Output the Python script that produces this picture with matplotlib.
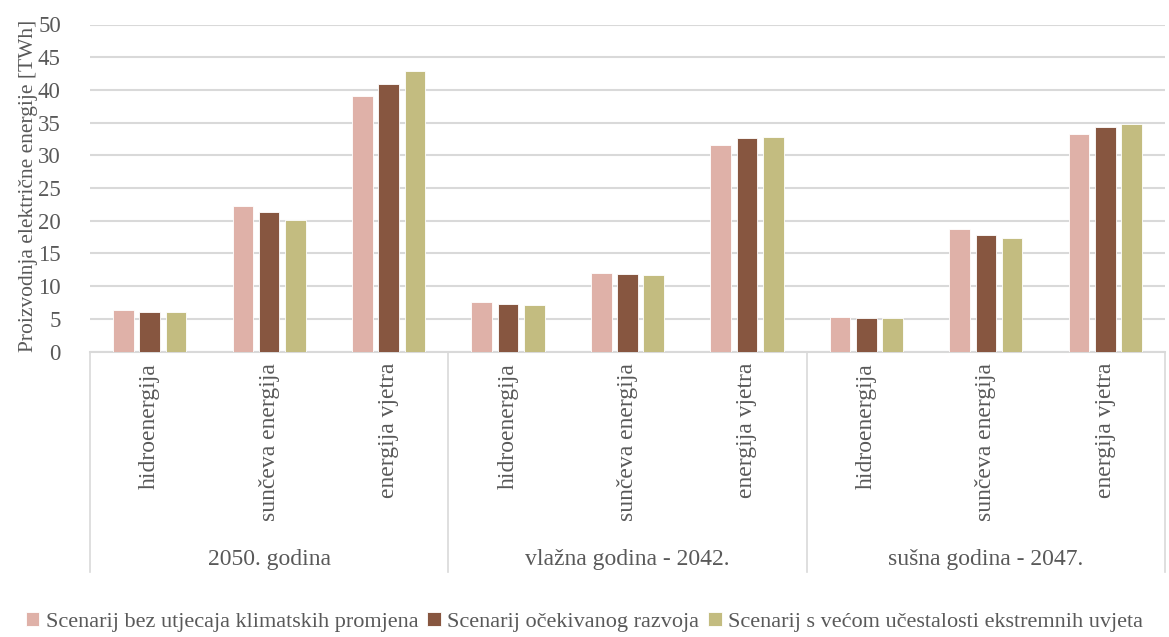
import matplotlib
matplotlib.use("Agg")
import matplotlib.pyplot as plt
import numpy as np

plt.rcParams["font.family"] = "Liberation Serif"
plt.rcParams["text.color"] = "#595959"
plt.rcParams["ytick.color"] = "#595959"
plt.rcParams["axes.labelcolor"] = "#595959"

groups     = ["2050. godina", "vlažna godina - 2042.", "sušna godina - 2047."]
sources    = ["hidroenergija", "sunčeva energija", "energija vjetra"]
scenarios  = ["Scenarij bez utjecaja klimatskih promjena",
              "Scenarij očekivanog razvoja",
              "Scenarij s većom učestalosti ekstremnih uvjeta"]

# per scenario: 3 groups x 3 sources, in order
bez_utjecaja = [6.4, 22.2, 39.1,   7.6, 12.0, 31.6,   5.3, 18.8, 33.2]
ocekivani    = [6.1, 21.3, 40.9,   7.3, 11.9, 32.6,   5.1, 17.8, 34.4]
ekstremni    = [6.0, 20.1, 42.9,   7.1, 11.7, 32.8,   5.1, 17.4, 34.8]

colors = ["#dfb1a8", "#875640", "#c3bc80"]

fig = plt.figure(figsize=(11.69, 6.37), dpi=100)
ax = fig.add_axes([90 / 1169, 1 - 351.5 / 637, 1075 / 1169, 327 / 637])

x = np.arange(len(bez_utjecaja))
width = 0.173
offsets = [-0.22, 0.0, 0.22]
for vals, off, col, lab in zip([bez_utjecaja, ocekivani, ekstremni], offsets, colors, scenarios):
    ax.bar(x + off, vals, width, color=col, edgecolor="white", linewidth=0.6, label=lab, zorder=3)

ax.set_xlim(-0.5, len(x) - 0.5)
ax.set_ylim(0, 50)
ax.set_yticks(np.arange(0, 51, 5))
ax.yaxis.grid(True, color="#d9d9d9", linewidth=1.5, zorder=0)
ax.tick_params(axis="y", length=0, labelsize=16.5, pad=21)
ax.tick_params(axis="x", length=0, labelbottom=False)
for s in ["left", "right", "top"]:
    ax.spines[s].set_visible(False)
ax.spines["bottom"].set_color("#d9d9d9")
ax.spines["bottom"].set_linewidth(1.5)
ax.set_ylabel("Proizvodnja električne energije [TWh]", fontsize=15.5, va="center")
ax.yaxis.set_label_coords(-0.057, 0.505)

trans = ax.get_xaxis_transform()
for i in x:
    ax.text(i, -0.035, sources[i % 3], transform=trans, rotation=90,
            ha="center", va="top", fontsize=17)
for g, name in enumerate(groups):
    ax.text(g * 3 + 1, -0.635, name, transform=trans, ha="center", va="center", fontsize=17)
for b in [-0.5, 2.5, 5.5, 8.5]:
    ax.plot([b, b], [0, -0.675], transform=trans, color="#d9d9d9", linewidth=1.2, clip_on=False)

fig.legend(loc="center", bbox_to_anchor=(0.5, 1 - 622 / 637), ncol=3, frameon=False,
           fontsize=16, handlelength=0.6, handleheight=0.6, handletextpad=0.3,
           columnspacing=0.4, borderaxespad=0)

fig.savefig("out.png", dpi=100)
